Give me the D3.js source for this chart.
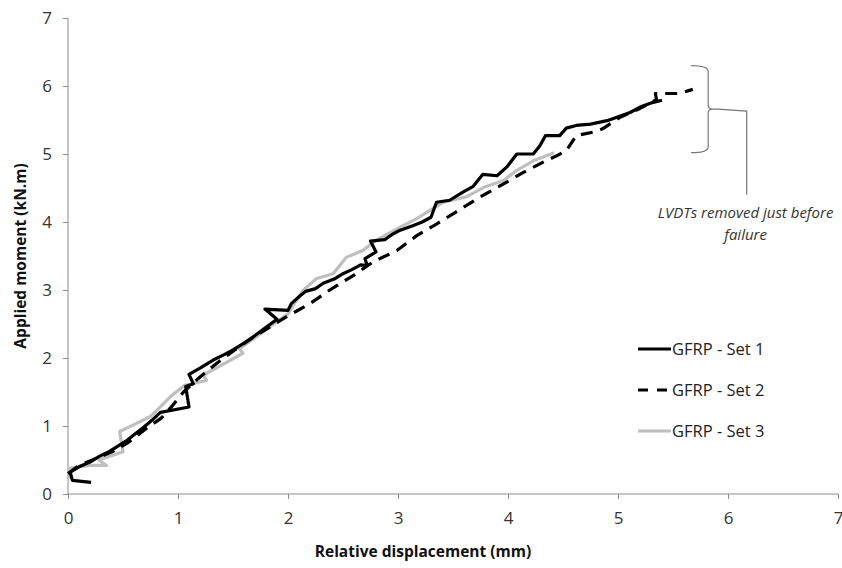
<!DOCTYPE html>
<html>
<head>
<meta charset="utf-8">
<title>GFRP moment - displacement</title>
<script src="https://cdnjs.cloudflare.com/ajax/libs/d3/7.8.5/d3.min.js"></script>
<style>
body { margin: 0; background: #fff; }
text { font-family: 'Open Sans', 'Noto Sans', sans-serif; fill: #333; }
.axis path, .axis line { stroke: #8c8c8c; }
.axis text { font-size: 17px; fill: #333; }
.title { font-size: 15.5px; font-weight: bold; fill: #111; }
.legend text { font-size: 16.5px; fill: #222; }
.note { font-size: 15px; font-style: italic; fill: #333; }
</style>
</head>
<body>
<script>
// values: [displacement mm, moment kN.m]
const set1 = [[0.21,0.17],[0.04,0.2],[0.02,0.32],[0.1,0.4],[0.2,0.47],[0.28,0.55],[0.38,0.63],
  [0.45,0.7],[0.53,0.78],[0.6,0.87],[0.68,0.97],[0.76,1.08],[0.84,1.2],[1.1,1.28],[1.07,1.58],
  [1.14,1.62],[1.1,1.76],[1.2,1.85],[1.32,1.97],[1.42,2.05],[1.5,2.12],[1.6,2.22],[1.7,2.33],
  [1.8,2.45],[1.9,2.57],[1.79,2.72],[2.0,2.7],[2.03,2.8],[2.1,2.9],[2.16,2.98],[2.25,3.02],
  [2.32,3.1],[2.42,3.16],[2.5,3.24],[2.58,3.3],[2.66,3.37],[2.72,3.36],[2.7,3.46],[2.8,3.56],
  [2.75,3.72],[2.88,3.74],[2.95,3.82],[3.02,3.88],[3.14,3.95],[3.22,4.0],[3.3,4.07],[3.35,4.29],
  [3.47,4.32],[3.59,4.44],[3.68,4.52],[3.77,4.7],[3.9,4.68],[3.99,4.81],[4.08,5.0],[4.23,5.0],
  [4.29,5.12],[4.34,5.27],[4.47,5.27],[4.53,5.38],[4.62,5.42],[4.75,5.44],[4.9,5.49],[4.99,5.54],
  [5.11,5.61],[5.2,5.69],[5.32,5.76],[5.4,5.79]];

const set2 = [[0.0,0.3],[0.1,0.42],[0.25,0.52],[0.4,0.62],[0.55,0.76],[0.7,0.95],[0.85,1.12],
  [0.95,1.3],[1.05,1.5],[1.2,1.72],[1.35,1.92],[1.5,2.1],[1.69,2.31],[1.84,2.46],[2.0,2.62],
  [2.2,2.8],[2.38,3.0],[2.6,3.22],[2.78,3.42],[2.99,3.58],[3.17,3.8],[3.35,3.97],[3.53,4.15],
  [3.75,4.37],[3.96,4.56],[4.14,4.73],[4.32,4.88],[4.45,4.98],[4.53,5.05],[4.62,5.27],[4.77,5.32],
  [4.86,5.37],[5.02,5.54],[5.2,5.67],[5.35,5.8],[5.34,5.89],[5.45,5.89],[5.56,5.89],[5.68,5.95]];

const set3 = [[0.0,0.22],[0.02,0.38],[0.2,0.42],[0.35,0.42],[0.28,0.5],[0.5,0.62],[0.47,0.92],
  [0.6,1.02],[0.75,1.14],[0.84,1.28],[0.93,1.43],[1.06,1.6],[1.26,1.67],[1.23,1.75],[1.4,1.9],
  [1.59,2.07],[1.56,2.14],[1.71,2.31],[1.87,2.5],[2.0,2.65],[2.05,2.78],[2.14,3.0],[2.26,3.17],
  [2.41,3.24],[2.53,3.48],[2.68,3.58],[2.8,3.73],[2.99,3.9],[3.17,4.05],[3.32,4.2],[3.41,4.29],
  [3.62,4.37],[3.78,4.51],[3.96,4.61],[4.08,4.76],[4.23,4.9],[4.42,5.02]];

const seriesNames = ["GFRP - Set 1", "GFRP - Set 2", "GFRP - Set 3"];
const xTicks = [0, 1, 2, 3, 4, 5, 6, 7];
const yTicks = [0, 1, 2, 3, 4, 5, 6, 7];
const noteLines = ["LVDTs removed just before", "failure"];

const W = 842, H = 568;
const margin = {top: 18, right: 5, bottom: 74, left: 68};

const svg = d3.select("body").append("svg")
    .attr("width", W)
    .attr("height", H);

const x = d3.scaleLinear().domain([0, 7]).range([margin.left, 838]);
const y = d3.scaleLinear().domain([0, 7]).range([494, margin.top]);

svg.append("g")
    .attr("class", "axis")
    .attr("transform", `translate(0,${y(0)})`)
    .call(d3.axisBottom(x).tickValues(xTicks).tickFormat(d3.format("d")).tickSize(5).tickPadding(13))
    .call(g => g.select(".domain").attr("d", `M${x(0)},0H${x(7)}`));

svg.append("g")
    .attr("class", "axis")
    .attr("transform", `translate(${x(0)},0)`)
    .call(d3.axisLeft(y).tickValues(yTicks).tickFormat(d3.format("d")).tickSize(5).tickPadding(11))
    .call(g => g.select(".domain").attr("d", `M0,${y(0)}V${y(7)}`));

svg.append("text")
    .attr("class", "title")
    .attr("x", (x(0) + x(7)) / 2 - 30)
    .attr("y", 557)
    .attr("text-anchor", "middle")
    .text("Relative displacement (mm)");

svg.append("text")
    .attr("class", "title")
    .attr("transform", `translate(26,${(y(0) + y(7)) / 2}) rotate(-90)`)
    .attr("text-anchor", "middle")
    .text("Applied moment (kN.m)");

const line = d3.line().x(d => x(d[0])).y(d => y(d[1]));

const styles = [
  {stroke: "#000", width: 3.2, dash: null},
  {stroke: "#000", width: 3.2, dash: "12,8"},
  {stroke: "#bfbfbf", width: 3.2, dash: null}
];

// grey first so the black lines sit on top
[[set3, styles[2]], [set2, styles[1]], [set1, styles[0]]].forEach(([data, s]) => {
  svg.append("path")
      .datum(data)
      .attr("fill", "none")
      .attr("stroke", s.stroke)
      .attr("stroke-width", s.width)
      .attr("stroke-linejoin", "round")
      .attr("stroke-dasharray", s.dash)
      .attr("d", line);
});

// legend
const legend = svg.append("g").attr("class", "legend");
seriesNames.forEach((name, i) => {
  const ly = 349 + i * 41;
  legend.append("line")
      .attr("x1", 638).attr("x2", 671)
      .attr("y1", ly).attr("y2", ly)
      .attr("stroke", styles[i].stroke)
      .attr("stroke-width", styles[i].width)
      .attr("stroke-dasharray", styles[i].dash ? "10,9" : null);
  legend.append("text")
      .attr("x", 672).attr("y", ly + 6)
      .text(name);
});

// bracket + leader for the note
const bx = x(5.82), bTop = y(6.3), bBot = y(5.02), bMid = (bTop + bBot) / 2;
const br = svg.append("g").attr("fill", "none").attr("stroke", "#777").attr("stroke-width", 1.2);
br.append("path")
    .attr("d", `M${bx - 17},${bTop} Q${bx},${bTop} ${bx},${bTop + 6}
                V${bMid - 4} Q${bx},${bMid} ${bx + 4},${bMid}
                Q${bx},${bMid} ${bx},${bMid + 4}
                V${bBot - 6} Q${bx},${bBot} ${bx - 17},${bBot}`);
br.append("path")
    .attr("d", `M${bx + 4},${bMid} H${x(5.91)} L${x(6.17)},${y(5.63)} V${y(4.4)}`);

svg.append("g").selectAll("text")
  .data(noteLines)
  .join("text")
    .attr("class", "note")
    .attr("x", x(6.16))
    .attr("y", (d, i) => 218 + i * 22)
    .attr("text-anchor", "middle")
    .text(d => d);
</script>
</body>
</html>
